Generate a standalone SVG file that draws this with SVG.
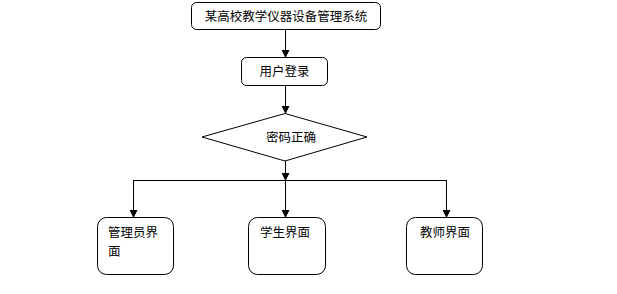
<svg xmlns="http://www.w3.org/2000/svg" width="617" height="294" viewBox="0 0 617 294">
<style>
.n{fill:#fff;stroke:#000;stroke-width:1}
.t{font-family:"Noto Sans CJK SC","Liberation Sans",sans-serif;font-size:12.5px;fill:#000}
.c{fill:none;stroke:#000;stroke-width:1}
</style>
<defs>
<marker id="a" markerWidth="8" markerHeight="8" refX="7" refY="4" orient="auto" markerUnits="userSpaceOnUse">
<path d="M0,0 L8,4 L0,8 Z" fill="#000"/>
</marker>
</defs>
<rect width="617" height="294" fill="#fff"/>
<g id="connectors">
<line class="c" x1="285.5" y1="30" x2="285.5" y2="57" marker-end="url(#a)"/>
<line class="c" x1="285.5" y1="86" x2="285.5" y2="113" marker-end="url(#a)"/>
<line class="c" x1="285.5" y1="161" x2="285.5" y2="180" marker-end="url(#a)"/>
<line class="c" x1="133" y1="180.5" x2="447" y2="180.5"/>
<line class="c" x1="133.5" y1="180" x2="133.5" y2="217" marker-end="url(#a)"/>
<line class="c" x1="285.5" y1="180" x2="285.5" y2="217" marker-end="url(#a)"/>
<line class="c" x1="446.5" y1="180" x2="446.5" y2="217" marker-end="url(#a)"/>
</g>
<g id="system">
<rect class="n" x="191.5" y="2.5" width="189" height="27" rx="5"/>
<text class="t" x="286" y="20.5" text-anchor="middle">某高校教学仪器设备管理系统</text>
</g>
<g id="login">
<rect class="n" x="241.5" y="57.5" width="86" height="28" rx="5"/>
<text class="t" x="284.5" y="76" text-anchor="middle">用户登录</text>
</g>
<g id="check">
<polygon class="n" points="285,113.5 367,137 285,161 202,137"/>
<text class="t" x="291" y="141.5" text-anchor="middle">密码正确</text>
</g>
<g id="admin">
<rect class="n" x="97.5" y="217.5" width="76" height="57" rx="9"/>
<text class="t" x="108" y="237">管理员界</text>
<text class="t" x="108" y="256">面</text>
</g>
<g id="student">
<rect class="n" x="248.5" y="217.5" width="77" height="57" rx="9"/>
<text class="t" x="260" y="237">学生界面</text>
</g>
<g id="teacher">
<rect class="n" x="406.5" y="217.5" width="76" height="57" rx="9"/>
<text class="t" x="420" y="237">教师界面</text>
</g>
</svg>
